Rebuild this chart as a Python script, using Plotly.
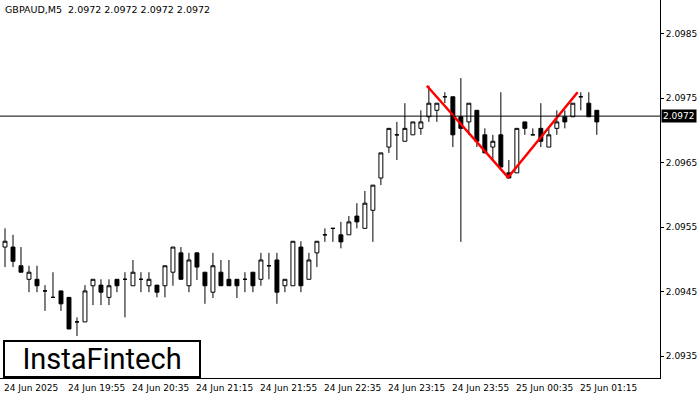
import plotly.graph_objects as go

opens = [2.09519,2.09519,2.09490,2.09469,2.09469,2.09451,2.09441,2.09451,2.09441,2.09403,
2.09403,2.09459,2.09460,2.09441,2.09469,2.09469,2.09459,2.09469,2.09459,2.09460,
2.09459,2.09480,2.09510,2.09459,2.09510,2.09480,2.09449,2.09480,2.09469,2.09469,
2.09469,2.09480,2.09469,2.09490,2.09499,2.09459,2.09459,2.09519,2.09469,2.09510,
2.09538,2.09548,2.09538,2.09538,2.09567,2.09548,2.09576,2.09626,2.09674,2.09693,
2.09683,2.09693,2.09703,2.09721,2.09731,2.09752,2.09752,2.09721,2.09713,2.09731,
2.09693,2.09674,2.09693,2.09634,2.09634,2.09713,2.09693,2.09703,2.09674,2.09703,
2.09721,2.09721,2.09752,2.09742,2.09731]
closes = [2.09528,2.09497,2.09480,2.09480,2.09459,2.09451,2.09441,2.09431,2.09392,2.09403,
2.09451,2.09469,2.09449,2.09459,2.09459,2.09469,2.09480,2.09469,2.09469,2.09449,
2.09490,2.09519,2.09469,2.09499,2.09488,2.09459,2.09490,2.09459,2.09459,2.09459,
2.09469,2.09459,2.09499,2.09490,2.09449,2.09469,2.09528,2.09459,2.09499,2.09528,
2.09538,2.09548,2.09527,2.09558,2.09558,2.09587,2.09615,2.09665,2.09703,2.09693,
2.09703,2.09713,2.09713,2.09742,2.09742,2.09752,2.09693,2.09703,2.09742,2.09683,
2.09665,2.09683,2.09643,2.09626,2.09703,2.09703,2.09693,2.09683,2.09693,2.09713,
2.09713,2.09742,2.09752,2.09721,2.09713]
highs = [2.09548,2.09538,2.09519,2.09490,2.09490,2.09460,2.09480,2.09451,2.09441,2.09410,
2.09460,2.09469,2.09469,2.09469,2.09469,2.09480,2.09499,2.09480,2.09480,2.09460,
2.09490,2.09519,2.09519,2.09510,2.09510,2.09480,2.09510,2.09499,2.09499,2.09469,
2.09480,2.09480,2.09510,2.09510,2.09510,2.09469,2.09528,2.09528,2.09510,2.09528,
2.09548,2.09548,2.09558,2.09567,2.09587,2.09606,2.09615,2.09665,2.09703,2.09713,
2.09742,2.09713,2.09731,2.09769,2.09742,2.09759,2.09752,2.09781,2.09742,2.09731,
2.09703,2.09693,2.09759,2.09654,2.09703,2.09713,2.09703,2.09742,2.09703,2.09731,
2.09731,2.09742,2.09759,2.09759,2.09731]
lows = [2.09488,2.09488,2.09480,2.09449,2.09449,2.09420,2.09441,2.09420,2.09392,2.09381,
2.09403,2.09429,2.09429,2.09429,2.09449,2.09410,2.09459,2.09449,2.09449,2.09441,
2.09441,2.09459,2.09469,2.09449,2.09468,2.09431,2.09440,2.09459,2.09459,2.09440,
2.09449,2.09449,2.09459,2.09469,2.09431,2.09449,2.09459,2.09449,2.09469,2.09488,
2.09527,2.09527,2.09517,2.09538,2.09548,2.09548,2.09527,2.09615,2.09665,2.09654,
2.09683,2.09693,2.09693,2.09713,2.09713,2.09742,2.09674,2.09527,2.09693,2.09674,
2.09665,2.09654,2.09643,2.09626,2.09634,2.09693,2.09693,2.09674,2.09674,2.09693,
2.09703,2.09721,2.09731,2.09721,2.09693]

pattern_x = [52.75, 62.9, 71.6]
pattern_y = [2.09769, 2.09627, 2.09759]

tick_idx = [0, 8, 16, 24, 32, 40, 48, 56, 64, 72]
tick_text = ["24 Jun 2025", "24 Jun 19:55", "24 Jun 20:35", "24 Jun 21:15", "24 Jun 21:55",
             "24 Jun 22:35", "24 Jun 23:15", "24 Jun 23:55", "25 Jun 00:35", "25 Jun 01:15"]
price_ticks = [2.0935, 2.0945, 2.0955, 2.0965, 2.0975, 2.0985]
last_price = 2.09722

x = list(range(len(opens)))
FONT = "DejaVu Sans"

fig = go.Figure()
fig.add_trace(go.Candlestick(
    x=x, open=opens, high=highs, low=lows, close=closes,
    increasing=dict(fillcolor="white", line=dict(color="black", width=1)),
    decreasing=dict(fillcolor="black", line=dict(color="black", width=1)),
    whiskerwidth=0, showlegend=False, hoverinfo="skip"))
fig.add_trace(go.Scatter(x=pattern_x, y=pattern_y, mode="lines",
                         line=dict(color="#ff0000", width=2.5), showlegend=False, hoverinfo="skip"))
fig.add_hline(y=last_price, line=dict(color="black", width=1))

for t, lab in zip(tick_idx, tick_text):
    fig.add_annotation(xref="x", yref="paper", x=t - 0.4, y=0, yshift=-3, xanchor="left", yanchor="top",
                       text=lab, showarrow=False, font=dict(color="black", size=9, family=FONT))

fig.add_annotation(xref="paper", yref="y", x=1.0, y=last_price, xanchor="left", yanchor="middle",
                   text="2.0972", showarrow=False, bgcolor="black", xshift=1,
                   font=dict(color="white", size=9, family=FONT))
fig.add_annotation(xref="paper", yref="paper", x=0.005, y=1.0, yshift=-2, xanchor="left", yanchor="top",
                   text="GBPAUD,M5  2.0972 2.0972 2.0972 2.0972", showarrow=False,
                   font=dict(color="black", size=9.5, family=FONT))
fig.add_annotation(xref="paper", yref="paper", x=0.004, y=0.0, xanchor="left", yanchor="bottom",
                   text="InstaFintech", showarrow=False, bgcolor="white",
                   width=192, height=32, align="center",
                   bordercolor="black", borderwidth=2, borderpad=1,
                   font=dict(color="black", size=29, family="Roboto"))

fig.update_layout(
    width=700, height=400, margin=dict(l=0, r=40, t=0, b=22),
    paper_bgcolor="white", plot_bgcolor="white",
    xaxis=dict(range=[-0.625, 81.9], rangeslider=dict(visible=False), showgrid=False,
               showticklabels=False, automargin=False,
               showline=True, linecolor="black", linewidth=1, zeroline=False),
    yaxis=dict(range=[2.09316, 2.09902], side="right", showgrid=False, automargin=False,
               tickvals=price_ticks, ticktext=[f"{p:.4f}" for p in price_ticks],
               ticks="outside", ticklen=3, tickcolor="black",
               showline=True, linecolor="black", linewidth=1, zeroline=False,
               tickfont=dict(size=9, family=FONT, color="black")),
)
fig.write_html("out.html", config={"displayModeBar": False},
               post_script="document.body.style.margin='0';")
